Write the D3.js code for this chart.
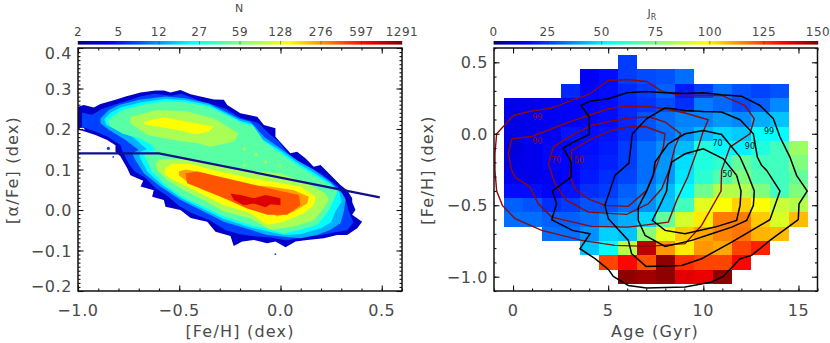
<!DOCTYPE html>
<html>
<head>
  <meta charset="utf-8">
  <title>Age, metallicity and alpha abundance</title>
  <script src='https://d3js.org/d3.v7.min.js'></script>
  <style>
    html, body { margin: 0; background: #fff; }
    text { font-family: 'DejaVu Sans', sans-serif; fill: #4a4a4a; }
    svg { display: block; }
  </style>
</head>
<body>
<script>
// ---- data ----
var countLabels = ['2','5','12','27','59','128','276','597','1291'];
var jrLabels = [0,25,50,75,100,125,150];

// filled density levels, [Fe/H], [alpha/Fe]
var levelCounts = [3,6,12,19,38,70,134,241,380,770];

var ringN3 = [[-1,.255],[-.971,.259],[-.922,.253],[-.889,.262],[-.815,.272],[-.765,.28],[-.691,.29],[-.617,.295],[-.576,.295],[-.543,.29],[-.494,.296],[-.444,.286],[-.395,.28],[-.329,.273],[-.28,.272],[-.263,.259],[-.198,.239],[-.115,.23],[-.082,.21],[-.025,.202],[-.025,.181],[.049,.14],[.082,.144],[.123,.128],[.164,.107],[.198,.111],[.296,.062],[.329,.049],[.354,.029],[.354,.02],[.37,0],[.354,-.012],[.403,-.029],[.379,-.045],[.329,-.062],[.28,-.062],[.214,-.07],[.132,-.074],[.074,-.078],[.025,-.092],[-.025,-.078],[-.066,-.082],[-.132,-.074],[-.189,-.078],[-.231,-.089],[-.247,-.064],[-.321,-.054],[-.362,-.029],[-.444,-.02],[-.494,0],[-.568,.008],[-.576,.025],[-.634,.033],[-.626,.049],[-.691,.058],[-.678,.072],[-.741,.086],[-.757,.103],[-.79,.132],[-.815,.144],[-.815,.16],[-.856,.173],[-.914,.185],[-.963,.193],[-1,.198]];
var ringN6 = [[-.98,.24],[-.93,.235],[-.88,.25],[-.81,.262],[-.74,.272],[-.69,.281],[-.62,.287],[-.54,.282],[-.49,.287],[-.4,.27],[-.33,.26],[-.27,.25],[-.2,.228],[-.11,.215],[-.06,.19],[-.01,.17],[.06,.125],[.13,.11],[.2,.09],[.28,.06],[.32,.03],[.335,0],[.36,-.03],[.33,-.05],[.27,-.055],[.2,-.062],[.12,-.066],[.03,-.075],[-.05,-.068],[-.13,-.065],[-.2,-.06],[-.27,-.05],[-.35,-.025],[-.45,-.005],[-.5,.01],[-.56,.035],[-.62,.055],[-.67,.08],[-.72,.095],[-.75,.115],[-.78,.145],[-.79,.16],[-.85,.18],[-.92,.195],[-.98,.205]];
var ringN12 = [[-.889,.226],[-.848,.247],[-.798,.259],[-.7,.272],[-.568,.28],[-.469,.276],[-.354,.263],[-.272,.243],[-.206,.226],[-.148,.218],[-.082,.181],[0,.152],[.082,.123],[.165,.099],[.247,.07],[.305,.041],[.321,.025],[.313,-.004],[.296,-.033],[.247,-.049],[.181,-.062],[.099,-.07],[.016,-.066],[-.066,-.062],[-.148,-.049],[-.28,-.029],[-.395,0],[-.494,.025],[-.593,.058],[-.675,.091],[-.716,.123],[-.733,.14],[-.7,.148],[-.765,.173],[-.848,.198],[-.889,.214]];
var ringN19 = [[-.87,.224],[-.84,.24],[-.79,.253],[-.69,.266],[-.568,.275],[-.469,.271],[-.354,.259],[-.272,.239],[-.198,.22],[-.14,.212],[-.09,.175],[0,.146],[.082,.117],[.165,.092],[.247,.066],[.292,.043],[.3,.02],[.27,-.005],[.25,-.03],[.2,-.045],[.099,-.06],[.016,-.062],[-.148,-.043],[-.28,-.022],[-.387,.004],[-.49,.029],[-.58,.06],[-.655,.093],[-.69,.125],[-.7,.142],[-.66,.15],[-.73,.18],[-.82,.2],[-.86,.21]];
var ringN38 = [[-.856,.222],[-.831,.23],[-.782,.247],[-.683,.259],[-.568,.269],[-.469,.266],[-.354,.255],[-.272,.235],[-.189,.214],[-.132,.206],[-.082,.169],[0,.14],[.082,.111],[.165,.086],[.247,.062],[.28,.045],[.255,.016],[.23,-.008],[.181,-.037],[.099,-.049],[.016,-.058],[-.148,-.037],[-.28,-.016],[-.379,.008],[-.486,.033],[-.568,.062],[-.634,.095],[-.667,.128],[-.675,.14],[-.617,.148],[-.634,.16],[-.7,.177],[-.782,.189],[-.84,.206]];
var ringN70Upper = [[-.741,.23],[-.609,.247],[-.461,.243],[-.329,.226],[-.206,.189],[-.23,.169],[-.346,.156],[-.412,.165],[-.527,.173],[-.658,.185],[-.741,.214]];
var ringN70Lower = [[-.6,.125],[-.5,.127],[-.35,.115],[-.2,.1],[-.05,.092],[0,.09],[.132,.066],[.222,.041],[.239,.025],[.206,0],[.165,-.025],[.066,-.041],[-.049,-.049],[-.148,-.021],[-.28,-.004],[-.379,.025],[-.477,.049],[-.56,.074],[-.609,.099],[-.617,.115]];
var ringN134Upper = [[-.675,.218],[-.576,.229],[-.461,.218],[-.329,.206],[-.354,.193],[-.42,.187],[-.494,.196],[-.609,.206],[-.671,.212]];
var ringN134Lower = [[-.568,.103],[-.535,.114],[-.444,.114],[-.346,.1],[-.181,.082],[0,.066],[.099,.058],[.173,.033],[.165,.012],[.115,-.008],[.016,-.029],[-.066,-.037],[-.148,-.008],[-.28,.012],[-.379,.037],[-.477,.062],[-.543,.078],[-.576,.091]];
var ringN241 = [[-.502,.086],[-.502,.095],[-.469,.1],[-.379,.092],[-.181,.062],[-.049,.058],[.066,.049],[.14,.033],[.132,.016],[.066,-.004],[-.016,-.016],[-.132,.012],[-.28,.029],[-.379,.049],[-.461,.07]];
var ringN380 = [[-.469,.09],[-.461,.066],[-.313,.037],[-.165,.004],[-.066,-.012],[.033,-.012],[.099,.012],[.091,.037],[-.016,.049],[-.23,.074],[-.412,.095]];
var ringN770 = [[-.247,.04],[-.198,.037],[-.132,.029],[-.074,.037],[0,.029],[0,.012],[-.049,.014],[-.074,.007],[-.132,.016],[-.181,.012],[-.23,.025]];
var levelRings = [[ringN3],[ringN6],[ringN12],[ringN19],[ringN38],[ringN70Upper,ringN70Lower],[ringN134Upper,ringN134Lower],[ringN241],[ringN380],[ringN770]];

// stray cells outside the main contours
var speckFeh = [-.85,-.826,-.025];
var speckAfe = [.152,.131,-.109];
var greenSpeckFeh = [-.178,-.12,-.178,-.074,-.003];
var greenSpeckAfe = [.151,.137,.111,.119,.109];
var holeFeh = [-.98];
var holeAfe = [.2];

var divideLine = [[-1,.14],[-.6,.14],[.49,.031]];

// J_R per age / [Fe/H] bin
var ageBins = [0,1,2,3,4,5,6,7,8,9,10,11,12,13,14,15];
var fehBins = [.5,.4,.3,.2,.1,0,-.1,-.2,-.3,-.4,-.5,-.6,-.7,-.8,-.9,-1];
var jrGrid = [
  [null,null,null,null,null,null,25,null,null,null,null,null,null,null,null,null],
  [null,null,null,null,16,18,25,27,28,32,null,null,null,null,null,null],
  [null,null,null,22,17,18,22,25,30,20,25,32,28,26,28,null],
  [14,14,15,16,17,18,22,24,27,23,34,31,27,30,36,null],
  [13,14,15,16,17,18,22,28,32,35,35,38,36,41,44,null],
  [13,14,15,19,18,19,22,28,32,37,43,47,45,53,53,null],
  [12,14,17,17,18,20,25,32,37,43,58,52,51,58,64,80],
  [13,14,17,17,19,21,25,32,38,48,58,61,70,64,64,75],
  [14,14,15,17,20,23,26,32,38,49,60,67,75,66,64,70],
  [18,18,17,19,23,25,30,35,43,53,72,84,84,75,64,75],
  [30,28,23,25,28,28,32,37,44,64,92,97,104,97,88,84],
  [32,32,30,30,32,37,41,47,70,90,100,116,116,105,91,107],
  [null,null,32,32,37,46,44,77,94,105,110,115,117,108,107,null],
  [null,null,null,null,44,53,85,142,112,100,112,110,124,129,null,null],
  [null,null,null,null,null,124,133,122,148,127,124,124,133,null,null,null],
  [null,null,null,null,null,null,148,146,148,137,136,148,null,null,null,null]
];

// contours of the two populations, age, [Fe/H]
var black99 = [[3.57,.198],[4.05,.228],[5,.245],[6,.287],[7.02,.296],[7.99,.287],[9.04,.282],[10,.287],[10.96,.273],[12.01,.263],[12.98,.198],[13.68,.105],[14.03,-.023],[14.55,-.163],[14.9,-.291],[15.46,-.401],[15.03,-.49],[14.99,-.601],[13.5,-.746],[12.54,-.851],[11.93,-.874],[11.05,-.998],[10.44,-1.037],[9.04,-1.072],[7.02,-1.079],[6.06,-1.061],[5.27,-.998],[5.01,-.949],[4.31,-.874],[3.52,-.804],[4.05,-.699],[3.12,-.676],[2.03,-.601],[2.29,-.49],[2.07,-.401],[3.05,-.303],[3.05,-.198],[2.64,-.1],[3.17,-.058],[4.01,-.005],[4.01,.117]];
var black90 = [[5.36,-.291],[6.09,-.205],[6.27,0],[7.02,.105],[7.99,.182],[9.04,.163],[10,.156],[10.96,.152],[11.93,.098],[12.63,0],[12.84,-.163],[13.06,-.221],[13.33,-.256],[14.03,-.401],[13.5,-.601],[11.49,-.758],[9.91,-.874],[8.86,-.921],[6.99,-.928],[6.23,-.839],[6.06,-.746],[5.01,-.594],[4.83,-.501]];
var black70 = [[7.37,-.291],[7.46,-.198],[8.16,-.07],[9.04,0],[10,.023],[10.96,-.005],[11.93,-.163],[12.36,-.291],[12.68,-.401],[12.63,-.501],[12.28,-.606],[11.49,-.653],[10.44,-.699],[9.39,-.746],[7.99,-.788],[6.94,-.711],[6.58,-.606],[6.58,-.513],[7.02,-.401]];
var black50 = [[8.16,-.291],[8.34,-.198],[9.04,-.14],[10,-.105],[11.05,-.175],[11.75,-.291],[11.98,-.401],[11.93,-.501],[11.75,-.606],[10.61,-.653],[9.04,-.699],[7.99,-.676],[7.32,-.606],[7.72,-.501],[8.07,-.401]];
var red99 = [[-.86,0],[.02,.128],[.98,.159],[2.03,.179],[3.08,.233],[3.96,.273],[5.01,.373],[5.97,.38],[7.02,.366],[7.81,.298],[8.86,.268],[9.91,.268],[10.96,.268],[12.19,.198],[12.68,.105],[12.45,0],[11.4,-.093],[10.96,-.256],[10.93,-.401],[9.91,-.641],[9.04,-.769],[7.11,-.788],[5.36,-.781],[3.61,-.746],[1.51,-.676],[.11,-.594],[-.56,-.501],[-.86,-.401],[-.95,-.256],[-.95,-.14]];
var red90 = [[-.07,-.035],[.98,-.019],[2.03,.035],[3.08,.089],[3.96,.128],[5.01,.175],[5.97,.193],[7.02,.191],[7.99,.175],[9.04,.145],[10.26,.098],[9.95,0],[9.74,-.093],[9.3,-.256],[9.18,-.303],[8.6,-.466],[8.16,-.618],[6.06,-.653],[4.13,-.648],[2.03,-.583],[1.33,-.49],[.89,-.373],[.11,-.303],[-.07,-.256],[-.25,-.14]];
var red70 = [[1.86,-.21],[2.12,-.093],[3.08,-.012],[4.13,.058],[5.18,.089],[6.23,.112],[7.2,.117],[7.99,.082],[8.81,0],[8.51,-.093],[8.2,-.256],[7.81,-.385],[7.11,-.49],[5.97,-.564],[3.96,-.548],[2.82,-.466],[2.21,-.35]];
var red50 = [[3.05,-.21],[3.08,-.117],[4.13,-.035],[5.18,.023],[6.06,.047],[6.94,.051],[7.99,0],[7.9,-.093],[7.46,-.256],[7.02,-.396],[6.06,-.508],[4.83,-.501],[3.96,-.455],[3.26,-.385],[2.99,-.291]];

var contourLabels = ['99','90','70','50'];
var blackLabelAge = [13.45,12.45,10.75,11.26];
var blackLabelFeh = [.016,-.086,-.065,-.284];
var redLabelAge = [1.28,1.28,2.26,3.47];
var redLabelFeh = [.117,-.054,-.182,-.182];

// ---- helpers ----
var jet = d3.scaleLinear()
  .domain([0,.11,.35,.5,.65,.89,1])
  .range(['#00007f','#0000ff','#00ffff','#7fff7f','#ffff00','#ff0000','#7f0000']);

var svg = d3.select('body').append('svg').attr('width',830).attr('height',343);
var defs = svg.append('defs');

function colorBar(id, left, right) {
  var grad = defs.append('linearGradient').attr('id',id);
  d3.range(0,1.001,.05).forEach(function(t){
    grad.append('stop').attr('offset',t).attr('stop-color',jet(t));
  });
  svg.append('rect').attr('x',left).attr('y',41).attr('width',right-left).attr('height',3.6).attr('fill','url(#'+id+')');
}

function panelAxes(x, y, xMajor, xMinor, yMajor, yMinor, xFmt, yFmt, nudge) {
  var h = y.range()[0], t = y.range()[1], l = x.range()[0], r = x.range()[1];
  var sides = [
    [d3.axisBottom(x), h, 0, xMajor, xMinor],
    [d3.axisTop(x), t, 0, xMajor, xMinor],
    [d3.axisLeft(y), l, 1, yMajor, yMinor],
    [d3.axisRight(y), r, 1, yMajor, yMinor]
  ];
  sides.forEach(function(s){
    [[s[4],2.5],[s[3],5.5]].forEach(function(m){
      var g = svg.append('g')
        .attr('transform', s[2] ? 'translate('+s[1]+',0)' : 'translate(0,'+s[1]+')')
        .call(s[0].tickValues(m[0]).tickSize(-m[1]).tickFormat(''));
      g.select('.domain').remove();
      g.selectAll('line').attr('stroke','#111').attr('stroke-width',1.1);
    });
  });
  svg.append('rect').attr('x',l).attr('y',t).attr('width',r-l).attr('height',h-t)
    .attr('fill','none').attr('stroke','#111').attr('stroke-width',1.5);

  xMajor.forEach(function(v){
    svg.append('text').attr('x',x(v)).attr('y',315.5).attr('text-anchor','middle')
      .attr('font-size',16).attr('letter-spacing',.6).text(xFmt(v));
  });
  yMajor.forEach(function(v,i){
    // end labels stay inside the frame height
    var off = 0;
    if (nudge && i == 0) off = -5;
    if (nudge && i == yMajor.length-1) off = 5;
    svg.append('text').attr('x',l-6).attr('y',y(v)+6+off).attr('text-anchor','end')
      .attr('font-size',16).attr('letter-spacing',.6).text(yFmt(v));
  });
}

function minusFmt(d) {
  return function(v){ return v.toFixed(d).replace('-','\u2212'); };
}

function titleY(cx, label) {
  svg.append('text').attr('transform','translate('+cx+',170) rotate(-90)')
    .attr('text-anchor','middle').attr('font-size',16).attr('letter-spacing',1.2).text(label);
}
function titleX(cx, label) {
  svg.append('text').attr('x',cx).attr('y',337).attr('text-anchor','middle')
    .attr('font-size',16).attr('letter-spacing',1.2).text(label);
}

// ---- left panel ----
var xL = d3.scaleLinear().domain([-1,.6]).range([78,402]);
var yL = d3.scaleLinear().domain([-.2,.4]).range([291,48]);
var pathL = d3.line().x(function(d){return xL(d[0]);}).y(function(d){return yL(d[1]);});
var logN = d3.scaleLog().domain([2,1291]).range([0,1]);

defs.append('clipPath').attr('id','clipL').append('rect')
  .attr('x',78).attr('y',48).attr('width',324).attr('height',243);

var gL = svg.append('g').attr('clip-path','url(#clipL)');
levelRings.forEach(function(rings,i){
  rings.forEach(function(ring){
    gL.append('path').attr('d',pathL(ring)+'Z').attr('fill',jet(logN(levelCounts[i])));
  });
});
greenSpeckFeh.forEach(function(v,i){
  gL.append('circle').attr('cx',xL(v)).attr('cy',yL(greenSpeckAfe[i])).attr('r',1.6)
    .attr('fill',jet(logN(levelCounts[5])));
});
speckFeh.forEach(function(v,i){
  gL.append('circle').attr('cx',xL(v)).attr('cy',yL(speckAfe[i])).attr('r',i==0 ? 1.6 : .9)
    .attr('fill',jet(logN(levelCounts[1])));
});
holeFeh.forEach(function(v,i){
  gL.append('ellipse').attr('cx',xL(v)).attr('cy',yL(holeAfe[i])).attr('rx',2.6).attr('ry',1.2).attr('fill','#fff');
});
gL.append('path').attr('d',pathL(divideLine)).attr('fill','none').attr('stroke','#10108c').attr('stroke-width',2.2);
panelAxes(xL, yL, [-1,-.5,0,.5], d3.range(-10,7).map(function(d){return d/10;}),
  [-.2,-.1,0,.1,.2,.3,.4], d3.range(-20,41).map(function(d){return d/100;}),
  minusFmt(1), minusFmt(1), true);
titleY(18,'[\u03b1/Fe] (dex)');
titleX(240,'[Fe/H] (dex)');

colorBar('barL',78,402);
var barL = d3.scalePoint().domain(countLabels).range([78,402]);
countLabels.forEach(function(c){
  svg.append('text').attr('x',barL(c)).attr('y',36).attr('text-anchor','middle')
    .attr('font-size',12).attr('letter-spacing',.5).text(c);
  svg.append('line').attr('x1',barL(c)).attr('x2',barL(c)).attr('y1',41).attr('y2',44.6)
    .attr('stroke','#334').attr('stroke-width',.5);
});
svg.append('text').attr('x',239).attr('y',12).attr('text-anchor','middle').attr('font-size',11).text('N');

// ---- right panel ----
var xR = d3.scaleLinear().domain([-1,16]).range([494,817.5]);
var yR = d3.scaleLinear().domain([-1.1,.6]).range([291,48]);
var pathR = d3.line().x(function(d){return xR(d[0]);}).y(function(d){return yR(d[1]);});
var jrT = d3.scaleLinear().domain([0,150]).range([0,1]);

defs.append('clipPath').attr('id','clipR').append('rect')
  .attr('x',494).attr('y',48).attr('width',323.5).attr('height',243);

var gR = svg.append('g').attr('clip-path','url(#clipR)');
jrGrid.forEach(function(row,i){
  row.forEach(function(v,j){
    if (v === null) return;
    gR.append('rect')
      .attr('x',xR(ageBins[j]-.5))
      .attr('y',yR(fehBins[i]+.05))
      .attr('width',xR(ageBins[j]+.5)-xR(ageBins[j]-.5))
      .attr('height',yR(fehBins[i]-.05)-yR(fehBins[i]+.05))
      .attr('shape-rendering','crispEdges')
      .attr('fill',jet(jrT(v)));
  });
});
[red99,red90,red70,red50].forEach(function(c){
  gR.append('path').attr('d',pathR(c)+'Z').attr('fill','none').attr('stroke','#8c0a0a').attr('stroke-width',1.4);
});
[black99,black90,black70,black50].forEach(function(c){
  gR.append('path').attr('d',pathR(c)+'Z').attr('fill','none').attr('stroke','#000').attr('stroke-width',1.5);
});
contourLabels.forEach(function(c,i){
  gR.append('text').attr('x',xR(blackLabelAge[i])).attr('y',yR(blackLabelFeh[i])+3).attr('text-anchor','middle')
    .attr('font-size',8).style('fill','#111').text(c);
  gR.append('text').attr('x',xR(redLabelAge[i])).attr('y',yR(redLabelFeh[i])+3).attr('text-anchor','middle')
    .attr('font-size',8).style('fill','#8c0a0a').text(c);
});
panelAxes(xR, yR, [0,5,10,15], d3.range(-1,17),
  [-1,-.5,0,.5], d3.range(-11,7).map(function(d){return d/10;}),
  d3.format('d'), minusFmt(1), false);
titleY(433,'[Fe/H] (dex)');
titleX(655,'Age (Gyr)');

colorBar('barR',494,818);
var barR = d3.scaleLinear().domain([0,150]).range([493.5,818]);
jrLabels.forEach(function(c){
  svg.append('text').attr('x',barR(c)).attr('y',36).attr('text-anchor','middle')
    .attr('font-size',12).attr('letter-spacing',.5).text(c);
  svg.append('line').attr('x1',barR(c)).attr('x2',barR(c)).attr('y1',41).attr('y2',44.6)
    .attr('stroke','#334').attr('stroke-width',.5);
});
var jr = svg.append('text').attr('x',652).attr('y',17).attr('text-anchor','middle').attr('font-size',11);
jr.append('tspan').text('J');
jr.append('tspan').attr('font-size',8).attr('dy',2.5).text('R');
</script>
</body>
</html>
